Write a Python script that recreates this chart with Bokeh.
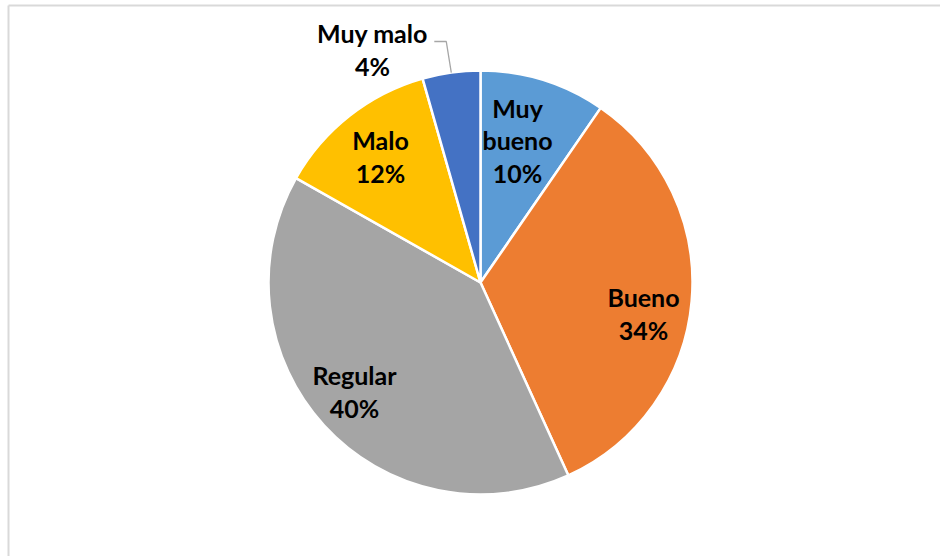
import numpy as np
from bokeh.plotting import figure
from bokeh.models import Range1d, ColumnDataSource
from bokeh.core.properties import value
from bokeh.embed import file_html
from bokeh.resources import INLINE

# ---- data ----
categories = ["Muy bueno", "Bueno", "Regular", "Malo", "Muy malo"]
shares = [9.6, 33.6, 40.0, 12.4, 4.4]
pct_labels = ["10%", "34%", "40%", "12%", "4%"]
colors = ["#5B9BD5", "#ED7D31", "#A5A5A5", "#FFC000", "#4472C4"]

# ---- layout (pixels) ----
W, H = 940, 556
CX, CY, R = 480, 274, 212
label_text = ["Muy\nbueno", "Bueno", "Regular", "Malo", "Muy malo"]
label_pos = [(517, 416), (643, 243), (354, 165), (380, 400), (372, 507)]

vals = np.array(shares, dtype=float)
frac = vals / vals.sum()
cum = np.concatenate([[0], np.cumsum(frac)])
start = np.pi / 2 - 2 * np.pi * cum[:-1]
end = np.pi / 2 - 2 * np.pi * cum[1:]

p = figure(width=W, height=H, output_backend="svg", toolbar_location=None,
           x_range=Range1d(0, W), y_range=Range1d(0, H), min_border=0)
p.axis.visible = False
p.grid.visible = False
p.outline_line_color = None
p.background_fill_color = "white"

src = ColumnDataSource(dict(start=start, end=end, color=colors, cat=categories))
p.wedge(x=CX, y=CY, radius=R, start_angle="start", end_angle="end",
        direction="clock", fill_color="color", line_color="white",
        line_width=2.5, source=src)

# frame (left and top edges)
p.line([8, 8], [0, H - 5], line_color="#D9D9D9", line_width=2)
p.line([8, W], [H - 5, H - 5], line_color="#D9D9D9", line_width=2)

# leader line for the smallest slice
mid = (start[-1] + end[-1]) / 2
ex, ey = CX + R * np.cos(mid), CY + R * np.sin(mid)
p.line([ex - 17, ex - 5, ex], [ey + 31, ey + 31, ey], line_color="#A6A6A6", line_width=1.3)

texts = [f"{t}\n{pc}" for t, pc in zip(label_text, pct_labels)]
p.text(x=[q[0] for q in label_pos], y=[q[1] for q in label_pos], text=texts,
       text_font=value("Lato"), text_font_style="bold", text_font_size="25px",
       text_align="center", text_baseline="middle", text_line_height=1.08,
       text_color="black")

open("out.html", "w").write(file_html(p, INLINE))
